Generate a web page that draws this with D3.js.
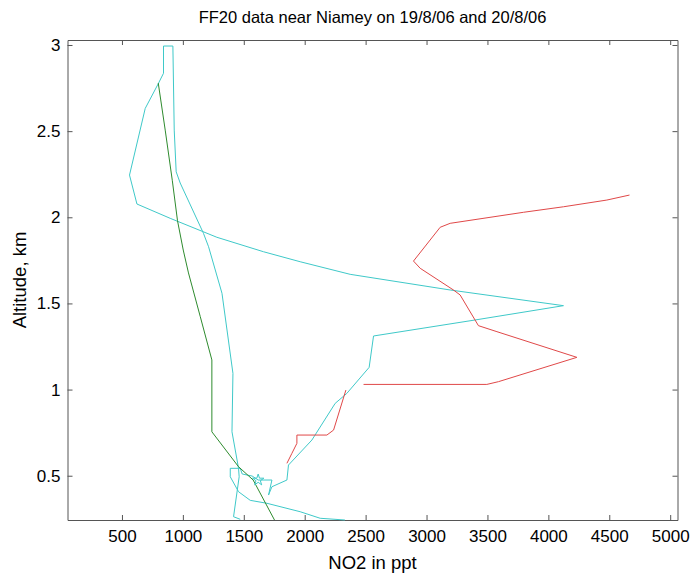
<!DOCTYPE html>
<html>
<head>
<meta charset="utf-8">
<script src="https://cdn.jsdelivr.net/npm/d3@7"></script>
<style>
  body { margin: 0; background: #fff; }
  svg { display: block; font-family: "Liberation Sans", Arial, sans-serif; }
  .axis text { font-size: 17px; fill: #000; }
  .axis path, .axis line { stroke: #555; }
</style>
</head>
<body>
<div id="chart"></div>
<script>
// tick labels
const xTicks = [500, 1000, 1500, 2000, 2500, 3000, 3500, 4000, 4500, 5000];
const yTicks = [0.5, 1, 1.5, 2, 2.5, 3];

// cyan profile (NO2 ppt, altitude km)
const cyanNO2 = [2330, 2127, 1963, 1690, 1553, 1457, 1389, 1389, 1471, 1487, 1569, 1618, 1731, 1703, 1731, 1854,
  1867, 2059, 2250, 2346, 2529, 2565, 3399, 4124, 3194, 2373, 1963, 1662, 1279, 896, 623, 562, 691, 800, 841,
  841, 918, 929, 945, 978, 1169, 1211, 1321, 1411, 1403, 1457, 1462, 1416, 1471];
const cyanAlt = [0.243, 0.253, 0.291, 0.340, 0.357, 0.407, 0.494, 0.543, 0.543, 0.510, 0.498, 0.475, 0.475, 0.388, 0.436, 0.475,
  0.562, 0.707, 0.920, 0.978, 1.129, 1.311, 1.404, 1.487, 1.578, 1.669, 1.742, 1.800, 1.884, 1.994, 2.077, 2.245, 2.632, 2.778, 2.836,
  2.994, 2.994, 2.506, 2.264, 2.199, 1.907, 1.829, 1.559, 1.094, 0.755, 0.543, 0.494, 0.262, 0.247];

// red profile, null = gap in the record
const redNO2 = [4666, 4480, 4124, 3796, 3194, 3112, 2893, 2948, 3221, 3276, 3426, 3578, 4234, 3591, 3495, 2483,
  null, 2338, 2237, 2182, 1936, 1936, 1895, 1854];
const redAlt = [2.129, 2.100, 2.061, 2.029, 1.965, 1.942, 1.746, 1.704, 1.578, 1.549, 1.371, 1.336, 1.187, 1.046, 1.030, 1.030,
  null, 0.997, 0.765, 0.736, 0.736, 0.688, 0.630, 0.572];

// green profile
const greenNO2 = [798, 855, 913, 956, 1003, 1046, 1143, 1238, 1238, 1457, 1577, 1752];
const greenAlt = [2.779, 2.506, 2.215, 1.980, 1.810, 1.677, 1.423, 1.172, 0.755, 0.552, 0.475, 0.243];

// star marker
const markerNO2 = [1618];
const markerAlt = [0.475];

const W = 692, H = 573;
const plotLeft = 67.5, plotRight = 677.5, plotTop = 40, plotBottom = 520;

const x = d3.scaleLinear().domain([53, 5060]).range([plotLeft, plotRight]);
const y = d3.scaleLinear().domain([0.243, 3.029]).range([plotBottom, plotTop]);

const svg = d3.select("#chart").append("svg")
  .attr("width", W)
  .attr("height", H);

// axes box with inward ticks
svg.append("g").attr("class", "axis")
  .attr("transform", `translate(0,${plotBottom})`)
  .call(d3.axisBottom(x).tickValues(xTicks).tickSizeInner(-5).tickSizeOuter(0).tickPadding(10).tickFormat(d3.format("d")));
svg.append("g").attr("class", "axis")
  .attr("transform", `translate(0,${plotTop})`)
  .call(d3.axisTop(x).tickValues(xTicks).tickSizeInner(-5).tickSizeOuter(0).tickFormat(""));
svg.append("g").attr("class", "axis")
  .attr("transform", `translate(${plotLeft},0)`)
  .call(d3.axisLeft(y).tickValues(yTicks).tickSizeInner(-5).tickSizeOuter(0).tickPadding(7).tickFormat(d3.format("")));
svg.append("g").attr("class", "axis")
  .attr("transform", `translate(${plotRight},0)`)
  .call(d3.axisRight(y).tickValues(yTicks).tickSizeInner(-5).tickSizeOuter(0).tickFormat(""));

const plot = svg.append("g");

const line = d3.line()
  .defined(d => d[0] !== null)
  .x(d => x(d[0]))
  .y(d => y(d[1]));

function addLine(xs, ys, color) {
  plot.append("path")
    .datum(xs.map((v, i) => [v, ys[i]]))
    .attr("fill", "none")
    .attr("stroke", color)
    .attr("stroke-width", 1)
    .attr("d", line);
}

addLine(cyanNO2, cyanAlt, "#3fc9c9");
addLine(redNO2, redAlt, "#e04848");
addLine(greenNO2, greenAlt, "#2e8b2e");

plot.selectAll(".marker")
  .data(markerNO2.map((v, i) => [v, markerAlt[i]]))
  .enter()
  .append("path")
  .attr("class", "marker")
  .attr("transform", d => `translate(${x(d[0])},${y(d[1])})`)
  .attr("d", d3.symbol(d3.symbolStar, 40))
  .attr("fill", "none")
  .attr("stroke", "#3fc9c9");

// labels
svg.append("text")
  .attr("x", (plotLeft + plotRight) / 2)
  .attr("y", 23)
  .attr("text-anchor", "middle")
  .style("font-size", "16.5px")
  .text("FF20 data near Niamey on 19/8/06 and 20/8/06");

svg.append("text")
  .attr("x", (plotLeft + plotRight) / 2)
  .attr("y", 569)
  .attr("text-anchor", "middle")
  .style("font-size", "18.5px")
  .text("NO2 in ppt");

svg.append("text")
  .attr("transform", `translate(26,${(plotTop + plotBottom) / 2}) rotate(-90)`)
  .attr("text-anchor", "middle")
  .style("font-size", "18.5px")
  .text("Altitude, km");
</script>
</body>
</html>
